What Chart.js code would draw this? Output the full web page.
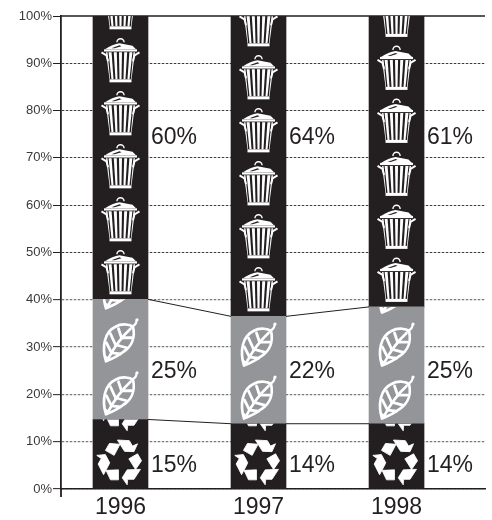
<!DOCTYPE html>
<html><head><meta charset="utf-8">
<style>html,body{margin:0;padding:0;background:#fff}canvas{display:block}</style>
<script src="https://cdn.jsdelivr.net/npm/chart.js@4"></script></head>
<body><canvas id="c" width="492" height="520" style="width:492px;height:520px"></canvas>
<script>
const years = ['1996','1997','1998'];
const recycled = [14.7, 13.8, 13.8];
const composted = [25.4, 22.7, 24.7];
const trash = [59.9, 63.5, 61.5];
const recycledLabels = ['15%','14%','14%'];
const compostedLabels = ['25%','22%','25%'];
const trashLabels = ['60%','64%','61%'];
const labelLevels = [5, 24.9, 74.2];
const INK = '#231f20', GREY = '#939598';
const F = 'Liberation Sans, Arial, sans-serif';

function poly(ctx, pts){ctx.beginPath();pts.forEach((p,i)=>i?ctx.lineTo(p[0],p[1]):ctx.moveTo(p[0],p[1]));ctx.closePath();ctx.fill();}

function drawCan(ctx){ // origin: bottom centre of the can
  ctx.fillStyle='#fff';ctx.strokeStyle='#fff';ctx.lineCap='butt';
  ctx.fillRect(-11,-3,22,3);
  for(let i=0;i<5;i++){
    const b=-8+i*4, t=-10.4+i*5.2;
    poly(ctx,[[t-1.5,-30],[t+1.5,-30],[b+1,-3],[b-1,-3]]);
  }
  poly(ctx,[[-14.5,-30],[-13,-30],[-10.4,-3],[-11,-3]]);
  poly(ctx,[[14.5,-30],[13,-30],[10.4,-3],[11,-3]]);
  ctx.fillRect(-16.5,-33,33,2.2);
  ctx.beginPath();ctx.moveTo(-15.5,-33);ctx.quadraticCurveTo(-8,-38,-1,-39);ctx.lineTo(12,-36.5);ctx.lineTo(15.5,-33);ctx.closePath();ctx.fill();
  ctx.fillStyle=INK;poly(ctx,[[-9,-34],[-1,-37],[1,-36.2],[-6,-34]]);
  ctx.lineWidth=1.4;ctx.beginPath();ctx.arc(0,-40,3.6,Math.PI,0);ctx.stroke();
  ctx.lineWidth=2;
  ctx.beginPath();ctx.moveTo(-19,-30);ctx.lineTo(-14,-27);ctx.lineTo(-12.5,-21);ctx.stroke();
  ctx.beginPath();ctx.moveTo(19,-30);ctx.lineTo(14,-27);ctx.lineTo(12.5,-21);ctx.stroke();
}

function drawLeaf(ctx){ // origin: bottom tip of the leaf, y up negative
  ctx.strokeStyle='#fff';ctx.lineWidth=2.7;ctx.lineCap='round';ctx.lineJoin='round';
  ctx.beginPath();ctx.moveTo(-15.5,-1.5);
  ctx.bezierCurveTo(-20,-16,-17,-31,-6,-36);
  ctx.bezierCurveTo(1,-40,9,-38,11.5,-36);
  ctx.bezierCurveTo(14,-25,10,-16,2,-11);
  ctx.bezierCurveTo(-3,-7,-9,-4,-15.5,-1.5);ctx.stroke();
  ctx.beginPath();ctx.moveTo(-14,-3);ctx.quadraticCurveTo(-4,-22,9,-34);ctx.stroke();
  ctx.lineWidth=2.2;
  ctx.beginPath();ctx.moveTo(10,-36);ctx.quadraticCurveTo(15,-38,15,-42);ctx.stroke();
  ctx.fillStyle='#fff';ctx.beginPath();ctx.arc(15.5,-43,1.6,0,7);ctx.fill();
  ctx.lineWidth=2.8;
  [[-10,-10,-15,-20],[-6,-18,-11,-29],[0,-25,-3,-34],[-10,-10,-1,-9],[-6,-18,5,-15],[0,-25,10,-25]].forEach(v=>{
    ctx.beginPath();ctx.moveTo(v[0],v[1]);ctx.lineTo(v[2],v[3]);ctx.stroke();});
  poly(ctx,[[-15.5,-1],[-17,-8],[-11,-4]]);
}

function drawRecycle(ctx){ // origin: centre of the symbol
  ctx.fillStyle='#fff';ctx.strokeStyle='#fff';ctx.lineWidth=0.8;ctx.lineJoin='round';
  for(let k=0;k<3;k++){
    ctx.save();ctx.rotate(k*2*Math.PI/3);
    const q=[[-14.5,9],[-2,8.5],[-2,18.5],[-10,18.5]];
    const a=[[1.7,16.5],[6.7,8.5],[7.2,8.5],[20,8],[13.5,18],[7.2,18],[6.7,23.5]];
    [q,a].forEach(p=>{poly(ctx,p);ctx.stroke();});
    ctx.restore();
  }
}

function tile(ctx, el, icon, x, startY, period){
  ctx.save();
  const half=el.width/2;
  const top=el.y, bot=el.base;
  ctx.beginPath();ctx.rect(x-half-2,top,el.width+4,bot-top);ctx.clip();
  for(let y=startY; y>top-60; y-=period){
    ctx.save();ctx.translate(x,y);icon(ctx);ctx.restore();
  }
  ctx.restore();
}

const pictograms = {
  id:'pictograms',
  beforeDatasetsDraw(chart){
    const {ctx,chartArea:a,scales:{y}}=chart;
    ctx.save();ctx.strokeStyle=INK;ctx.lineWidth=1.3;
    ctx.beginPath();ctx.moveTo(a.left,y.getPixelForValue(100));ctx.lineTo(a.right,y.getPixelForValue(100));ctx.stroke();
    ctx.restore();
  },
  afterDatasetsDraw(chart){
    const {ctx,chartArea:a,scales:{y}}=chart;
    const metas=[0,1,2].map(i=>chart.getDatasetMeta(i).data);
    years.forEach((_,i)=>{
      const r=metas[0][i],c=metas[1][i],t=metas[2][i];
      tile(ctx,r,drawRecycle,r.x,r.base-27,54);
      tile(ctx,c,drawLeaf,c.x+1,c.base-3.7,53);
      tile(ctx,t,drawCan,t.x,t.base-5,53);
    });
    ctx.save();ctx.strokeStyle=INK;ctx.lineWidth=1;
    for(let i=0;i<2;i++){
      [metas[0],metas[1]].forEach(m=>{
        ctx.beginPath();ctx.moveTo(m[i].x+m[i].width/2,m[i].y);ctx.lineTo(m[i+1].x-m[i+1].width/2,m[i+1].y);ctx.stroke();
      });
    }
    ctx.fillStyle=INK;ctx.font='23px '+F;ctx.textAlign='left';ctx.textBaseline='middle';
    [recycledLabels,compostedLabels,trashLabels].forEach((labs,d)=>{
      labs.forEach((s,i)=>ctx.fillText(s,metas[d][i].x+metas[d][i].width/2+3,y.getPixelForValue(labelLevels[d])));
    });
    ctx.strokeStyle=INK;ctx.lineWidth=1.8;
    ctx.beginPath();ctx.moveTo(a.left,a.bottom);ctx.lineTo(a.left,a.bottom+8);ctx.stroke();
    ctx.restore();
  }
};

const mk=(label,data,color)=>({label,data:data.map((v,i)=>({x:i,y:v})),backgroundColor:color,borderWidth:0,barThickness:55,stack:'s'});
new Chart(document.getElementById('c'),{
  type:'bar',
  data:{labels:years,datasets:[mk('Recycled',recycled,INK),mk('Composted',composted,GREY),mk('Trash',trash,INK)]},
  plugins:[pictograms],
  options:{
    responsive:false,animation:false,devicePixelRatio:1,
    layout:{padding:{top:16,right:7,left:0,bottom:0}},
    plugins:{legend:{display:false},tooltip:{enabled:false},title:{display:false}},
    scales:{
      x:{type:'linear',offset:false,stacked:true,min:-0.431,max:2.641,
        afterBuildTicks:s=>{s.ticks=years.map((_,i)=>({value:i}));},
        afterFit:s=>{s.height=31;},
        grid:{display:false,drawTicks:false,offset:false},
        border:{display:true,color:INK,width:1.6},
        ticks:{autoSkip:false,maxRotation:0,padding:5,color:INK,font:{family:F,size:23},callback:v=>years[v]}},
      y:{stacked:true,min:0,max:100,
        afterFit:s=>{s.width=61;},
        grid:{color:c=>{const v=c.tick&&c.tick.value;return v===100?'rgba(0,0,0,0)':(v<=40?'#77787b':'#3a3a3c');},lineWidth:c=>(c.tick&&c.tick.value<=40)?1.3:1,tickLength:8,tickColor:INK,tickWidth:1,tickBorderDash:[],drawOnChartArea:true},
        border:{display:true,color:INK,width:1.8,dash:[2.5,1.5]},
        ticks:{stepSize:10,padding:1,color:'#3a3a3c',font:{family:F,size:13},callback:v=>v+'%'}}
    }
  }
});
</script></body></html>
